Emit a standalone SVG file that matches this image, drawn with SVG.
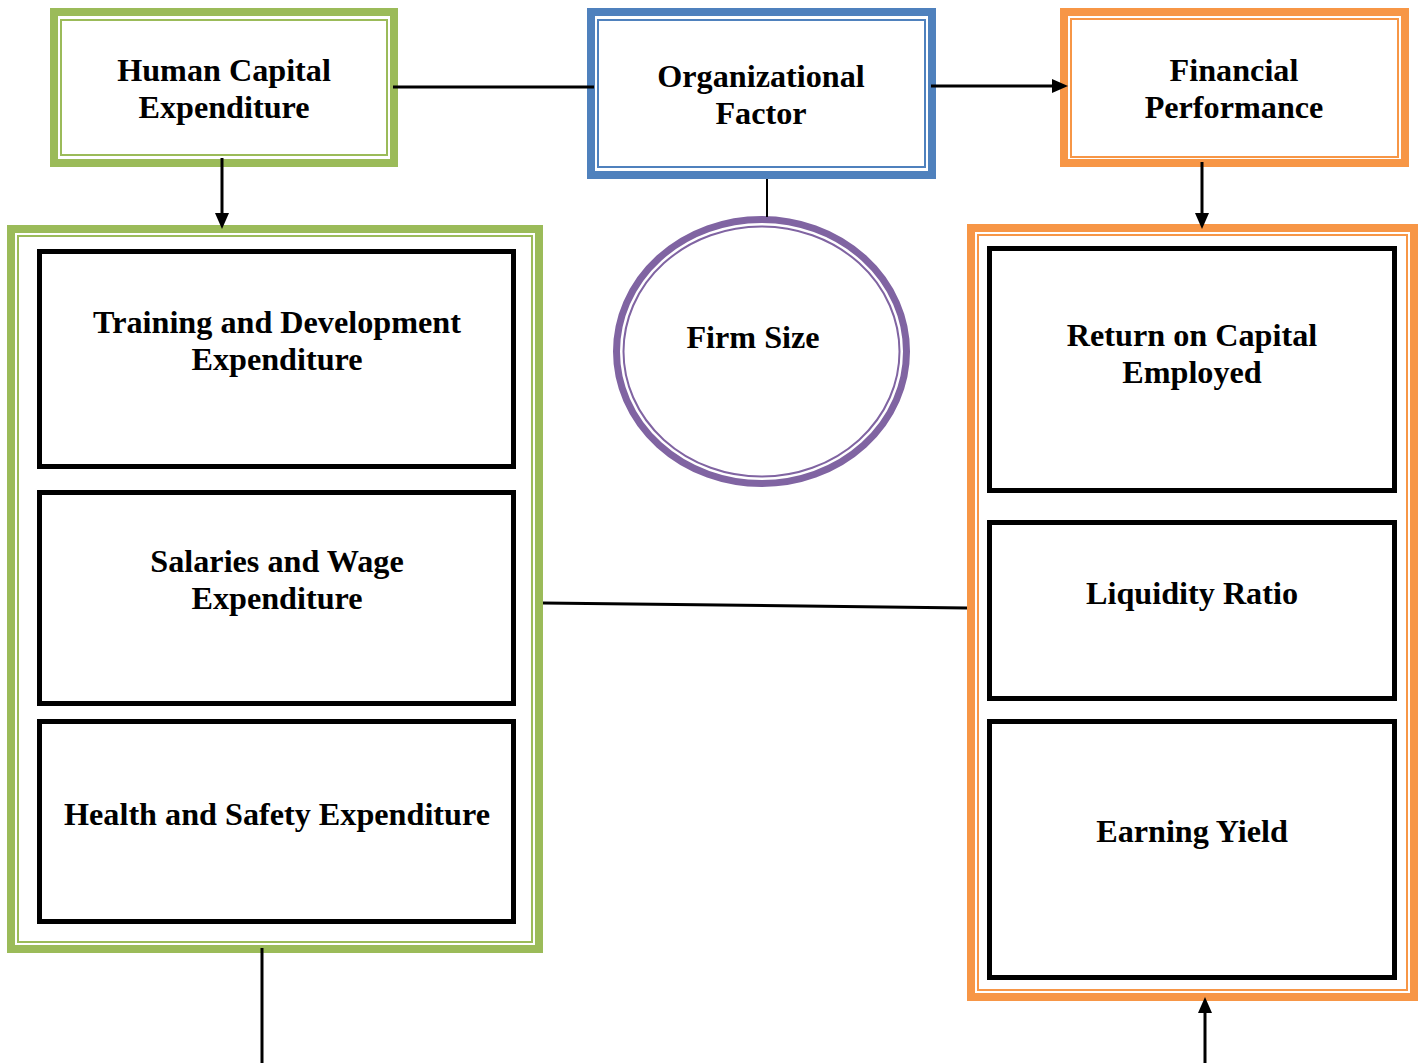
<svg xmlns="http://www.w3.org/2000/svg" width="1424" height="1063" viewBox="0 0 1424 1063">
<style>
text{font-family:"Liberation Serif","Times New Roman",serif;font-weight:bold;font-size:32.2px;fill:#000;text-anchor:middle}
.g{stroke:#9BBB59;fill:none}
.b{stroke:#4F81BD;fill:none}
.o{stroke:#F79646;fill:none}
.p{stroke:#8064A2;fill:none}
.thick{stroke-width:8}
.thin{stroke-width:2}
.blk{stroke:#000;stroke-width:5;fill:none}
.ln{stroke:#000;stroke-width:3;fill:none}
.head{fill:#000;stroke:none}
</style>
<rect width="1424" height="1063" fill="#fff"/>
<g id="human-capital">
<rect class="g thick" x="54" y="12" width="340" height="151" fill="#fff"/>
<rect class="g thin" x="61" y="20" width="326" height="135"/>
<text x="224" y="81">Human Capital</text>
<text x="224" y="118">Expenditure</text>
</g>
<g id="organizational-factor">
<rect class="b thick" x="591" y="12" width="341" height="163" stroke-width="9" fill="#fff"/>
<rect class="b thin" x="598" y="20" width="327" height="147"/>
<text x="761" y="87">Organizational</text>
<text x="761" y="124">Factor</text>
</g>
<g id="financial-performance">
<rect class="o thick" x="1064" y="12" width="341" height="151" fill="#fff"/>
<rect class="o thin" x="1071" y="19" width="327" height="138"/>
<text x="1234" y="81">Financial</text>
<text x="1234" y="118">Performance</text>
</g>
<g id="firm-size">
<ellipse class="p" cx="761.5" cy="351.5" rx="145" ry="132" stroke-width="7" fill="#fff"/>
<ellipse class="p thin" cx="761.5" cy="351.5" rx="138" ry="125"/>
<text x="753" y="348">Firm Size</text>
</g>
<g id="hc-components">
<rect class="g thick" x="11" y="229" width="528" height="720" fill="#fff"/>
<rect class="g thin" x="18" y="236" width="514" height="706"/>
<g id="training">
<rect class="blk" x="39.5" y="251.5" width="474" height="215"/>
<text x="277" y="333">Training and Development</text>
<text x="277" y="370">Expenditure</text>
</g>
<g id="salaries">
<rect class="blk" x="39.5" y="492.5" width="474" height="211"/>
<text x="277" y="572">Salaries and Wage</text>
<text x="277" y="609">Expenditure</text>
</g>
<g id="health">
<rect class="blk" x="39.5" y="721.5" width="474" height="200"/>
<text x="277" y="825">Health and Safety Expenditure</text>
</g>
</g>
<g id="fp-components">
<rect class="o thick" x="971" y="228" width="443" height="769" fill="#fff"/>
<rect class="o thin" x="978" y="235" width="429" height="755"/>
<g id="roce">
<rect class="blk" x="989.5" y="248.5" width="405" height="242"/>
<text x="1192" y="346">Return on Capital</text>
<text x="1192" y="383">Employed</text>
</g>
<g id="liquidity">
<rect class="blk" x="989.5" y="522.5" width="405" height="176"/>
<text x="1192" y="604">Liquidity Ratio</text>
</g>
<g id="earning">
<rect class="blk" x="989.5" y="721.5" width="405" height="256"/>
<text x="1192" y="842">Earning Yield</text>
</g>
</g>
<g id="connectors">
<line class="ln" x1="393" y1="87" x2="594" y2="87"/>
<line class="ln" x1="931" y1="86" x2="1055" y2="86"/>
<polygon class="head" points="1068,86 1052,79 1052,93"/>
<line class="ln" x1="222" y1="158" x2="222" y2="216"/>
<polygon class="head" points="222,229 215,213 229,213"/>
<line class="ln" x1="1202" y1="162" x2="1202" y2="216"/>
<polygon class="head" points="1202,229 1195,213 1209,213"/>
<line stroke="#000" stroke-width="2" x1="767" y1="179" x2="767" y2="217"/>
<line class="ln" x1="543" y1="603" x2="967" y2="608"/>
<line class="ln" x1="262" y1="948" x2="262" y2="1063"/>
<line class="ln" x1="1205" y1="1063" x2="1205" y2="1010"/>
<polygon class="head" points="1205,997 1198,1013 1212,1013"/>
</g>
</svg>
